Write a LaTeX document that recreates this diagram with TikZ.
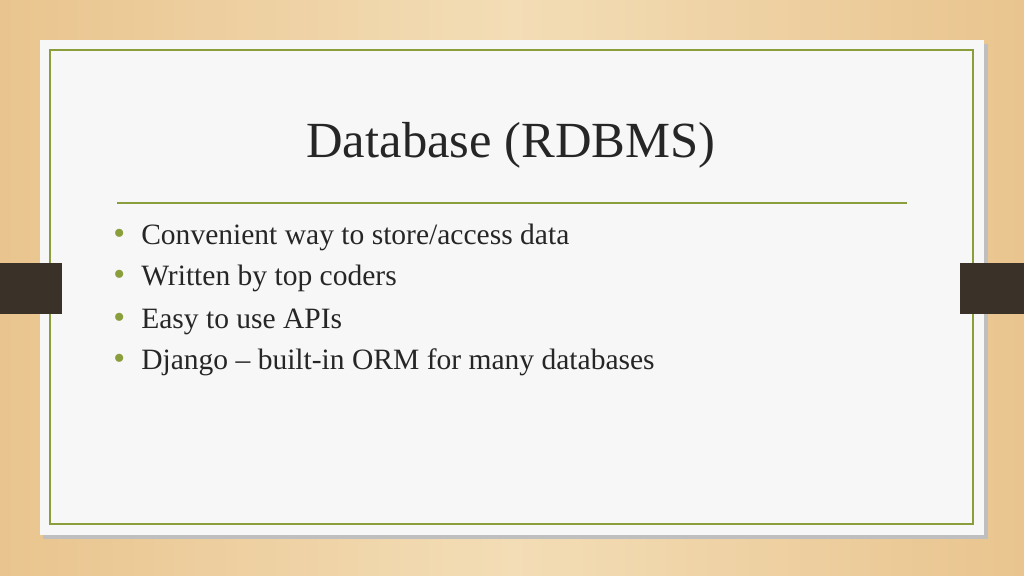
\documentclass[tikz,border=0pt]{standalone}
\usepackage{fontspec}
\setmainfont{Liberation Serif}
\usetikzlibrary{positioning}
\definecolor{wood}{HTML}{E9C48E}
\definecolor{woodlight}{HTML}{F3DDB6}
\definecolor{paper}{HTML}{F7F7F7}
\definecolor{olive}{HTML}{8A9E3C}
\definecolor{tab}{HTML}{3A3128}
\definecolor{ink}{HTML}{262626}
\tikzset{bullet/.style={anchor=base west, text=ink, font=\fontsize{21}{25}\selectfont, inner sep=0pt},
dot/.style={anchor=base west, text=olive, font=\fontsize{24}{28}\selectfont, inner sep=0pt}}
\begin{document}
\begin{tikzpicture}[x=0.025cm,y=-0.025cm]
 %Background
 \shade[left color=wood, right color=wood, middle color=woodlight] (0,0) rectangle (1024,575);
 \useasboundingbox (0,0) rectangle (1024,575);
 \fill[black!25] (43,44) rectangle (988,539);
 \fill[paper] (40,40) rectangle (984,535);
 \draw[olive, line width=0.9pt] (50,50) rectangle (973,524);
 %Side tabs
 \fill[tab] (0,263) rectangle (62,314);
 \fill[tab] (960,263) rectangle (1024,314);

 %Title and rule
 \node[text=ink, font=\fontsize{36}{42}\selectfont, anchor=base] (title) at (511,157) {Database (RDBMS)};
 \coordinate (ruleL) at (117,203);
 \coordinate (ruleR) at (907,203);
 \draw[olive, line width=1pt] (ruleL) -- (ruleR);

 %Bullets
 \foreach \y/\txt [count=\i] in {244/{Convenient way to store/access data},
   285/{Written by top coders}, 328/{Easy to use APIs},
   369/{Django – built-in ORM for many databases}}{
  \node[dot] (dot\i) at (113,\y) {•};
  \node[bullet] (item\i) at (141,\y) {\txt};
 }
\end{tikzpicture}
\end{document}
